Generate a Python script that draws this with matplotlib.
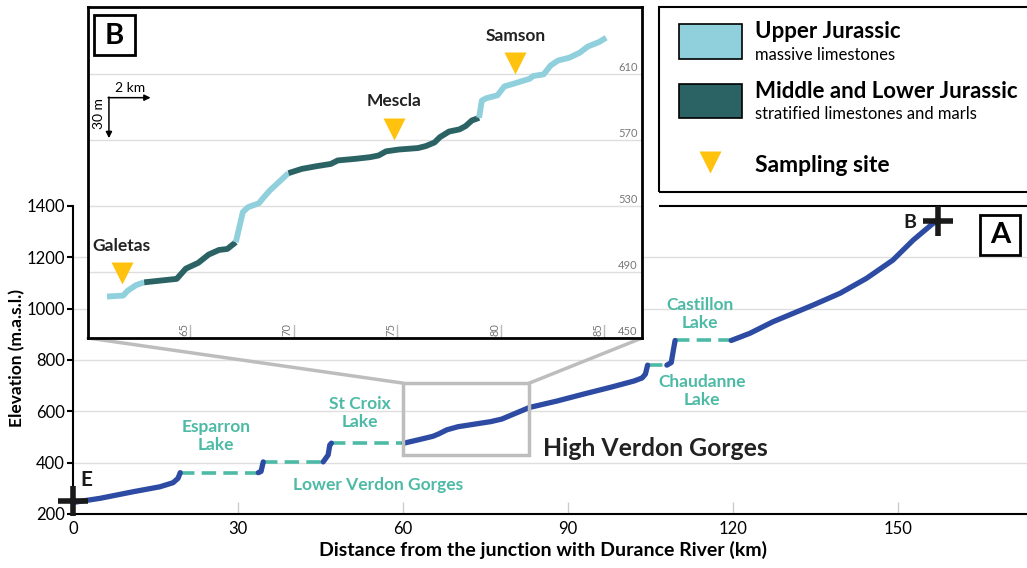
import numpy as np
import matplotlib.pyplot as plt
from matplotlib.patches import Rectangle, ConnectionPatch
from matplotlib.lines import Line2D

plt.rcParams['font.family'] = ['Lato', 'DejaVu Sans']

nan = np.nan

# longitudinal profile of the Verdon (NaN = reservoir, drawn dashed below)
profile_km = [0, 4.9, 11, 15.8, 18.2, 19.1, 19.5, nan,
              33.7, 34.2, 34.6, nan,
              45.5, 46.4, 46.7, 47.0, nan,
              60.2, 63, 65.5, 66.5, 68, 70, 73, 76, 78, 80, 83, 88, 93, 98, 102, 103.5, 104.1, 104.5, nan,
              108, 108.8, 109.2, 109.5, nan,
              119.7, 123.1, 127.3, 134.6, 139.5, 144.3, 149.1, 152.8, 156.4, 157.3]
profile_m = [245, 261, 287, 306, 322, 339, 361, nan,
             361, 366, 403, nan,
             403, 430, 469, 476, nan,
             476, 490, 503, 512, 528, 540, 550, 560, 570, 588, 615, 640, 668, 695, 718, 730, 745, 780, nan,
             780, 790, 840, 876, nan,
             876, 904, 949, 1014, 1060, 1118, 1189, 1267, 1332, 1340]

lake_start = [19.5, 34.6, 47.0, 104.5, 109.5]
lake_end = [33.7, 45.5, 60.2, 108.0, 119.7]
lake_level = [361, 403, 476, 780, 876]

# zoom on the High Verdon Gorges (panel B)
inset_km = [61.0, 61.78, 62.0, 62.4, 62.79,
            64.36, 64.8, 65.4, 65.9, 66.4, 66.8, 67.21,
            67.38, 67.55, 67.8, 68.33, 68.5, 68.85, 69.28, 69.75,
            70.4, 71.1, 71.8, 72.13, 73.0, 73.7, 74.1, 74.46, 75.07, 76.0, 76.38, 76.8,
            77.06, 77.5, 78.0, 78.3, 78.6, 78.95,
            79.08, 79.3, 79.83, 80.17, 80.6, 81.4, 81.55, 82.06, 82.4, 82.76, 83.3,
            83.8, 84.2, 84.74, 85.08]
inset_m = [475.1, 475.7, 478.7, 482.0, 483.7,
           485.8, 492.0, 495.5, 500.5, 503.3, 503.9, 508.0,
           517.0, 526.2, 529.2, 531.6, 534.3, 539.3, 544.3, 549.8,
           552.4, 554.0, 555.4, 557.5, 558.5, 559.5, 560.5, 563.0, 564.1, 565.0, 566.2, 568.4,
           571.6, 575.0, 576.3, 578.3, 581.7, 583.3,
           593.7, 595.2, 596.9, 602.3, 603.9, 607.0, 608.6, 609.6, 615.0, 618.0, 619.7,
           622.7, 626.5, 629.2, 631.8]
unit_breaks = [62.79, 67.21, 69.75, 78.95]
units = ['upper', 'middle', 'upper', 'middle', 'upper']

sites = ['Galetas', 'Mescla', 'Samson']
site_km = [61.7, 74.86, 80.7]
site_m = [489.5, 576.7, 616.5]

x_ticks = [0, 30, 60, 90, 120, 150]
y_ticks = [200, 400, 600, 800, 1000, 1200, 1400]
inset_xticks = [65, 70, 75, 80, 85]
inset_yticks = [450, 490, 530, 570, 610]

blue = '#2d4ba2'
teal = '#4dbaa6'
light = '#8fd0dc'
dark = '#2b6364'
gold = '#ffc20e'
grey = '#bdbdbd'

fig = plt.figure(figsize=(10.27, 5.68), dpi=100)

# ---- panel A
ax = fig.add_axes([73 / 1027, 54 / 568, 954 / 1027, 308 / 568])
ax.set_xlim(0, 173.5)
ax.set_ylim(200, 1400)
ax.hlines(y_ticks[1:-1], 0, 173.5, color='#dedede', lw=1, zorder=0)
ax.hlines(1400, 106.5, 173.5, color='black', lw=1.5, clip_on=False)

ax.plot(profile_km, profile_m, color=blue, lw=3.8, solid_capstyle='round', zorder=3)
for s, e, lv in zip(lake_start, lake_end, lake_level):
    ax.plot([s, e], [lv, lv], color=teal, lw=2.6, linestyle=(0, (4, 2)), zorder=2)

ax.plot(profile_km[0], profile_m[0] + 5, marker='+', ms=22, mew=4, color='#1a1a1a', clip_on=False, zorder=5)
ax.plot(profile_km[-1], profile_m[-1], marker='+', ms=22, mew=4, color='#1a1a1a', clip_on=False, zorder=5)
ax.text(2.4, 332, 'E', fontsize=15, fontweight='bold', color='#1a1a1a', ha='center', va='center')
ax.text(152.2, 1337, 'B', fontsize=14, fontweight='bold', color='#1a1a1a', ha='center', va='center')

lab = dict(color=teal, fontsize=12.5, fontweight='bold', ha='center', va='center', linespacing=1.15)
ax.text(26, 504, 'Esparron\nLake', **lab)
ax.text(55.5, 313, 'Lower Verdon Gorges', **lab)
ax.text(52.2, 593, 'St Croix\nLake', **lab)
ax.text(114.4, 679, 'Chaudanne\nLake', **lab)
ax.text(114.0, 979, 'Castillon\nLake', **lab)
ax.text(85.5, 455, 'High Verdon Gorges', fontsize=17.8, fontweight='bold', color='#222222', va='center')

ax.add_patch(Rectangle((60, 430), 23, 280, fill=False, ec=grey, lw=2.5, zorder=4))

ax.add_patch(Rectangle((0.951, 0.841), 0.042, 0.13, transform=ax.transAxes, fill=False, ec='black', lw=2))
ax.text(0.972, 0.905, 'A', transform=ax.transAxes, fontsize=21, fontweight='bold', ha='center', va='center')

ax.set_xticks(x_ticks)
ax.set_yticks(y_ticks)
ax.tick_params(axis='x', direction='in', length=9, color='#cccccc', width=1, labelsize=12, pad=5)
ax.tick_params(axis='y', direction='out', length=4, width=1.5, labelsize=12, pad=2)
for side in ['top', 'right']:
    ax.spines[side].set_visible(False)
ax.spines['left'].set_linewidth(1.5)
ax.spines['bottom'].set_linewidth(1.5)

# ---- panel B (inset)
axin = fig.add_axes([88 / 1027, 230 / 568, 554 / 1027, 331 / 568], zorder=5)
axin.set_xlim(60.08, 86.81)
axin.set_ylim(450, 650.4)
axin.hlines(inset_yticks[1:], 60.08, 86.81, color='#dedede', lw=1, zorder=0)
for t in inset_xticks:
    axin.plot([t, t], [450, 458], color='#bbbbbb', lw=1)
    axin.text(t - 0.3, 451.5, str(t), rotation=90, fontsize=8, color='#777777', ha='center', va='bottom')
for t in inset_yticks:
    axin.text(86.6, t + 4, str(t), fontsize=8, color='#777777', ha='right', va='center')

km = np.array(inset_km)
m = np.array(inset_m)
edges = [km[0]] + unit_breaks + [km[-1]]
for i, u in enumerate(units):
    sel = (km >= edges[i]) & (km <= edges[i + 1])
    axin.plot(km[sel], m[sel], color=light if u == 'upper' else dark, lw=4.2,
              solid_capstyle='butt', zorder=3)

for name, sk, sm in zip(sites, site_km, site_m):
    axin.plot(sk, sm, marker='v', ms=16, color=gold, mec='none', zorder=4)
    axin.text(sk, sm + 16.5, name, fontsize=12.5, fontweight='bold', color='#222222', ha='center', va='center')

arr = dict(arrowstyle='-|>', mutation_scale=9, lw=1.1, color='black', shrinkA=0, shrinkB=0)
axin.annotate('', xy=(63.1, 595.5), xytext=(61.05, 595.5), arrowprops=arr)
axin.annotate('', xy=(61.09, 571.0), xytext=(61.09, 595.9), arrowprops=arr)
axin.text(62.1, 601.5, '2 km', fontsize=10, ha='center', va='center')
axin.text(60.6, 585.8, '30 m', fontsize=10, rotation=90, ha='center', va='center')

axin.add_patch(Rectangle((0.011, 0.855), 0.074, 0.121, transform=axin.transAxes, fill=False, ec='black', lw=2))
axin.text(0.048, 0.913, 'B', transform=axin.transAxes, fontsize=21, fontweight='bold', ha='center', va='center')

axin.set_xticks([])
axin.set_yticks([])
for sp in axin.spines.values():
    sp.set_linewidth(2)

for xa, xb in [((60, 710), (0, 0)), ((83, 710), (1, 0))]:
    con = ConnectionPatch(xyA=xa, coordsA=ax.transData, xyB=xb, coordsB=axin.transAxes,
                          color=grey, lw=2.5, zorder=1)
    fig.add_artist(con)

# ---- legend box
fig.add_artist(Rectangle((659 / 1027, 1 - 192 / 568), 0.5, 185 / 568, transform=fig.transFigure,
                         fill=False, ec='black', lw=1.5))
fig.add_artist(Rectangle((679 / 1027, 1 - 59 / 568), 63 / 1027, 35 / 568, transform=fig.transFigure,
                         fc=light, ec='black', lw=1.2))
fig.add_artist(Rectangle((679 / 1027, 1 - 118 / 568), 63 / 1027, 34 / 568, transform=fig.transFigure,
                         fc=dark, ec='black', lw=1.2))
fig.add_artist(Line2D([710 / 1027], [1 - 162 / 568], marker='v', ms=16, color=gold, mec='none',
                      transform=fig.transFigure))
fig.text(755 / 1027, 1 - 32 / 568, 'Upper Jurassic', fontsize=16, fontweight='bold', va='center')
fig.text(755 / 1027, 1 - 55 / 568, 'massive limestones', fontsize=12, va='center')
fig.text(755 / 1027, 1 - 92 / 568, 'Middle and Lower Jurassic', fontsize=16, fontweight='bold', va='center')
fig.text(755 / 1027, 1 - 114 / 568, 'stratified limestones and marls', fontsize=12, va='center')
fig.text(755 / 1027, 1 - 165 / 568, 'Sampling site', fontsize=16.5, fontweight='bold', va='center')

fig.text(543 / 1027, 1 - 550 / 568, 'Distance from the junction with Durance River (km)',
         fontsize=14, fontweight='bold', ha='center', va='center')
fig.text(17 / 1027, 1 - 358 / 568, 'Elevation (m.a.s.l.)', fontsize=12.5, fontweight='bold',
         rotation=90, ha='center', va='center')

fig.savefig('out.png', dpi=100)
